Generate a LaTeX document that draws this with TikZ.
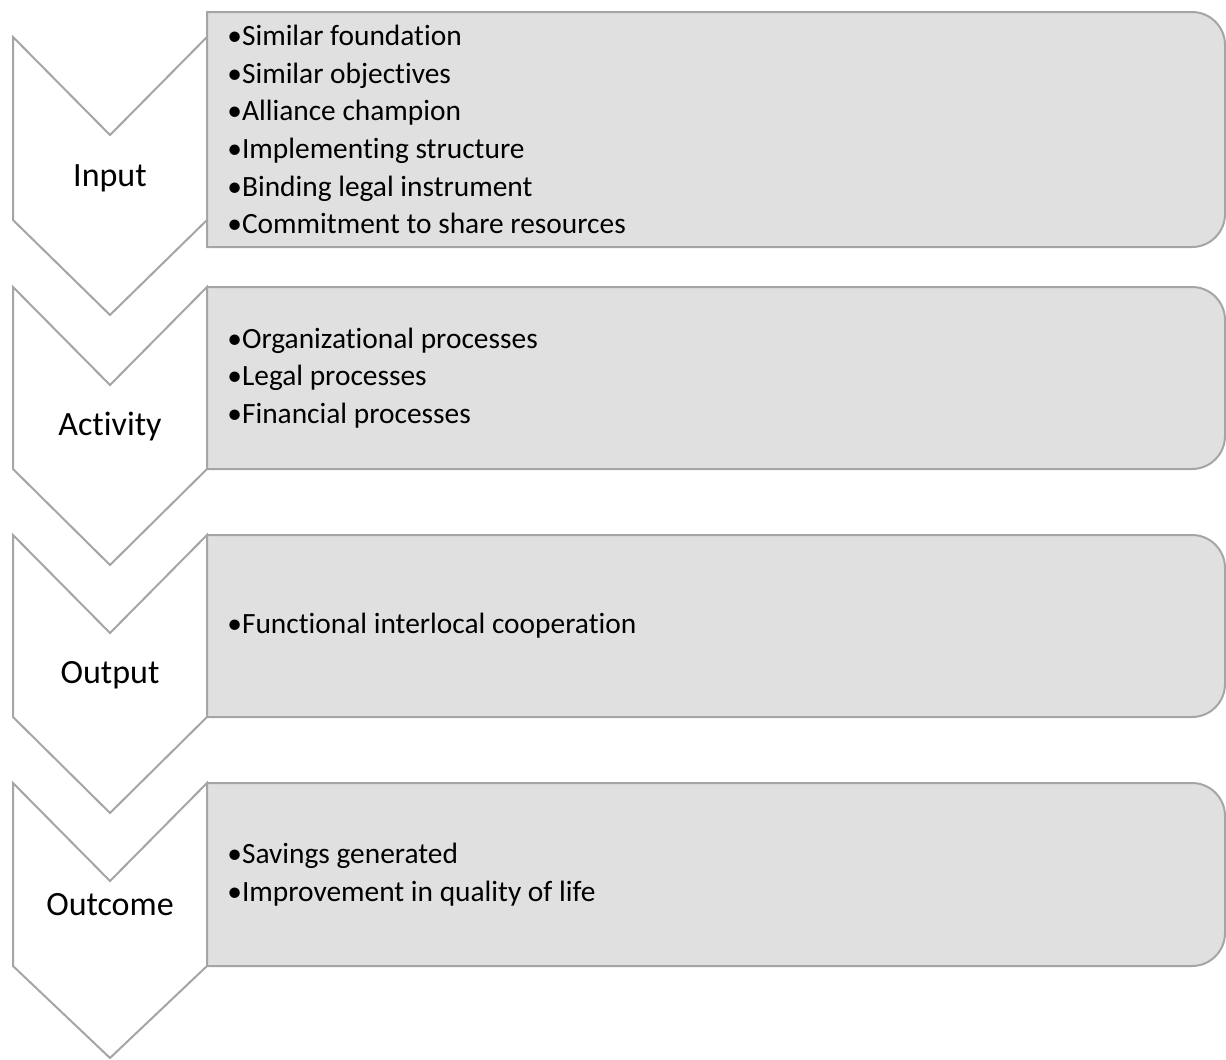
\documentclass[tikz,border=0pt]{standalone}
\usepackage{fontspec}
\setmainfont{Carlito}[Ligatures=NoCommon]
\definecolor{panelfill}{RGB}{224,224,224}
\definecolor{edgegray}{RGB}{165,165,165}

\begin{document}
\begin{tikzpicture}[x=0.5pt, y=-0.5pt,
    chev/.style={draw=edgegray, fill=white, line width=1pt},
    panel/.style={draw=edgegray, fill=panelfill, line width=1pt},
    stage/.style={inner sep=0pt, font=\fontsize{17}{20}\selectfont},
    items/.style={anchor=west, align=left, inner sep=0pt, font=\fontsize{14.7}{18.8}\selectfont}]
    \useasboundingbox (0,0) rectangle (1226,1060);

    % Chevrons
    \draw[chev] (13,37) -- (110,135) -- (207,37) -- (207,220) -- (110,315) -- (13,220) -- cycle;
    \draw[chev] (13,287) -- (110,385) -- (207,287) -- (207,469) -- (110,565) -- (13,469) -- cycle;
    \draw[chev] (13,535) -- (110,633) -- (207,535) -- (207,717) -- (110,813) -- (13,717) -- cycle;
    \draw[chev] (13,783) -- (110,881) -- (207,783) -- (207,966) -- (110,1058) -- (13,966) -- cycle;

    % Panels
    \draw[panel] (207,247) -- (207,12) -- (1192,12) arc[start angle=-90, end angle=0, radius=33]
        -- (1225,214) arc[start angle=0, end angle=90, radius=33] -- cycle;
    \draw[panel] (207,469) -- (207,287) -- (1192,287) arc[start angle=-90, end angle=0, radius=33]
        -- (1225,436) arc[start angle=0, end angle=90, radius=33] -- cycle;
    \draw[panel] (207,717) -- (207,535) -- (1192,535) arc[start angle=-90, end angle=0, radius=33]
        -- (1225,684) arc[start angle=0, end angle=90, radius=33] -- cycle;
    \draw[panel] (207,966) -- (207,783) -- (1192,783) arc[start angle=-90, end angle=0, radius=33]
        -- (1225,933) arc[start angle=0, end angle=90, radius=33] -- cycle;

    % Stage labels
    \node[stage] (input) at (110,178) {Input};
    \node[stage] (activity) at (110,427) {Activity};
    \node[stage] (output) at (110,675) {Output};
    \node[stage] (outcome) at (110,905) {Outcome};

    % Panel texts
    \node[items] (inputItems) at (227,129.5) {•Similar foundation\\•Similar objectives\\•Alliance champion\\•Implementing structure\\•Binding legal instrument\\•Commitment to share resources};
    \node[items] (activityItems) at (227,378) {•Organizational processes\\•Legal processes\\•Financial processes};
    \node[items] (outputItems) at (227,626) {•Functional interlocal cooperation};
    \node[items] (outcomeItems) at (227,874.5) {•Savings generated\\•Improvement in quality of life};
\end{tikzpicture}
\end{document}
